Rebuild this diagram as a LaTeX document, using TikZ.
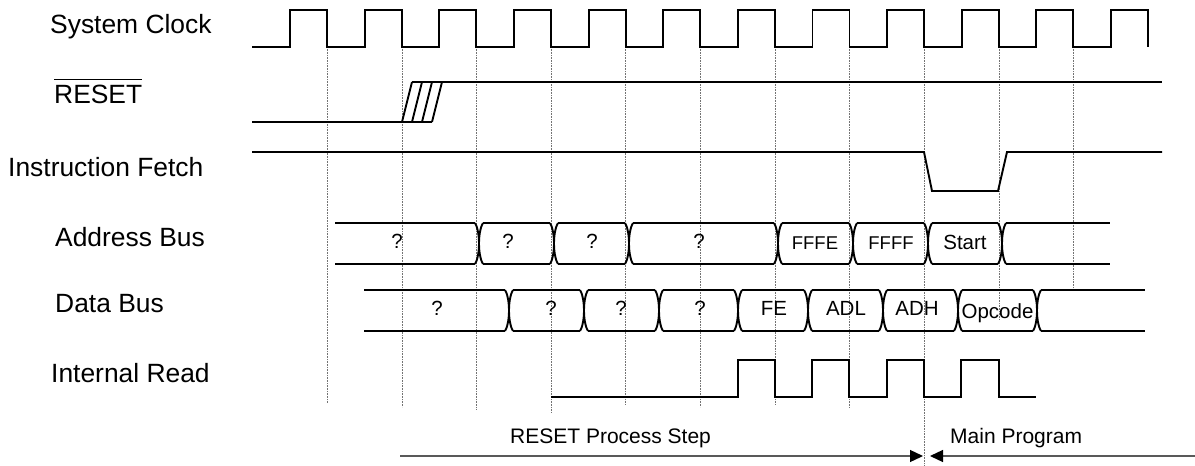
\documentclass[tikz,border=0pt]{standalone}
\usepackage{fontspec}
\setmainfont{Liberation Sans}
\usetikzlibrary{arrows.meta}
\newcommand\tdx[3]{%
  \draw[wave] ({#1-4},#2) .. controls ({#1-2},{#2+3}) and (#1,{(#2+#3)/2-10}) .. (#1,{(#2+#3)/2})
    .. controls (#1,{(#2+#3)/2+10}) and ({#1-2},{#3-3}) .. ({#1-4},#3);
  \draw[wave] ({#1+4},#2) .. controls ({#1+2},{#2+3}) and (#1,{(#2+#3)/2-10}) .. (#1,{(#2+#3)/2})
    .. controls (#1,{(#2+#3)/2+10}) and ({#1+2},{#3-3}) .. ({#1+4},#3);}
\begin{document}
\begin{tikzpicture}[x=1pt,y=-1pt,
  wave/.style={line width=1.9pt, line join=miter},
  gridline/.style={black!55, line width=0.7pt, dash pattern=on 0.8pt off 0.8pt},
  lbl/.style={font=\fontsize{26.4}{30}\selectfont, inner sep=0pt, anchor=base west},
  bustext/.style={font=\fontsize{20.5}{24}\selectfont, inner sep=0pt, anchor=base},
  smalltext/.style={font=\fontsize{18.5}{22}\selectfont, inner sep=0pt, anchor=base},
  steptext/.style={font=\fontsize{21}{25}\selectfont, inner sep=0pt, anchor=base west},
  spanline/.style={black!65, line width=1.3pt}]
\useasboundingbox (0,0) rectangle (1195,466);

% dotted guide lines
\foreach \x/\b in {327/403, 402/407, 476/409, 551/412, 625/405, 700/407, 775/405, 849/408, 924/466, 999/320, 1073/290}
  \draw[gridline] (\x,47) -- (\x,\b);

% labels
\node[lbl] (lclk) at (50,33) {System Clock};
\node[lbl] (lrst) at (54,103) {RESET};
\draw[line width=1.4pt] ([yshift=5pt]lrst.north west) -- ([yshift=5pt]lrst.north east);
\node[lbl] (lfet) at (8,176) {Instruction Fetch};
\node[lbl] (ladr) at (55,246) {Address Bus};
\node[lbl] (ldat) at (55,312) {Data Bus};
\node[lbl] (lird) at (51,382) {Internal Read};

% system clock
\draw[wave] (252,47) \foreach \k in {0,...,11} { -- ({290+74.64*\k},47) -- ({290+74.64*\k},10) -- ({327+74.64*\k},10) -- ({327+74.64*\k},47) };

% reset
\draw[wave] (252,122) -- (432,122);
\draw[wave] (412,82) -- (1162,82);
\foreach \d in {0,10,20,30} \draw[wave] ({402+\d},122) -- ({412+\d},82);

% instruction fetch
\draw[wave] (252,152) -- (924,152) -- (932,191) -- (998,191) -- (1007,152) -- (1162,152);

% address bus
\foreach \a/\b in {335/475, 483/550, 558/625, 633/774, 782/849, 857/924, 932/998, 1006/1110}
  { \draw[wave] (\a,223) -- (\b,223); \draw[wave] (\a,264) -- (\b,264); }
\foreach \c in {479,554,629,778,853,928,1002} { \tdx{\c}{223}{264} }
\node[bustext] (a1) at (397,248) {?};
\node[bustext] (a2) at (508,248) {?};
\node[bustext] (a3) at (592,248) {?};
\node[bustext] (a4) at (699,248) {?};
\node[smalltext] (a5) at (815,249) {FFFE};
\node[smalltext] (a6) at (891,249) {FFFF};
\node[bustext] (a7) at (965,249) {Start};

% data bus
\foreach \a/\b in {364/505, 513/580, 588/655, 663/734, 742/804, 812/879, 887/954, 962/1033, 1041/1145}
  { \draw[wave] (\a,290) -- (\b,290); \draw[wave] (\a,331) -- (\b,331); }
\foreach \c in {509,584,659,738,808,883,958,1037} { \tdx{\c}{290}{331} }
\node[bustext] (d1) at (437,315) {?};
\node[bustext] (d2) at (551,315) {?};
\node[bustext] (d3) at (621,315) {?};
\node[bustext] (d4) at (700,315) {?};
\node[bustext] (d5) at (774,315) {FE};
\node[bustext] (d6) at (846,315) {ADL};
\node[bustext] (d7) at (917,315) {ADH};
\node[bustext] (d8) at (997.5,318) {Opcode};

% internal read
\draw[wave] (551,397) -- (738,397) -- (738,360) -- (775,360) -- (775,397) -- (812,397) -- (812,360)
  -- (849,360) -- (849,397) -- (887,397) -- (887,360) -- (924,360) -- (924,397) -- (961,397)
  -- (961,360) -- (999,360) -- (999,397) -- (1036,397);

% bottom spans
\coordinate (rs) at (400,456);
\coordinate (m1) at (923,456);
\coordinate (m2) at (930,456);
\coordinate (re) at (1195,456);
\draw[spanline, -{Triangle[length=13pt,width=12pt,color=black]}] (rs) -- (m1);
\draw[spanline, -{Triangle[length=13pt,width=12pt,color=black]}] (re) -- (m2);
\node[steptext] (rps) at (510,443) {RESET Process Step};
\node[steptext] (mpg) at (950,443) {Main Program};
\end{tikzpicture}
\end{document}
